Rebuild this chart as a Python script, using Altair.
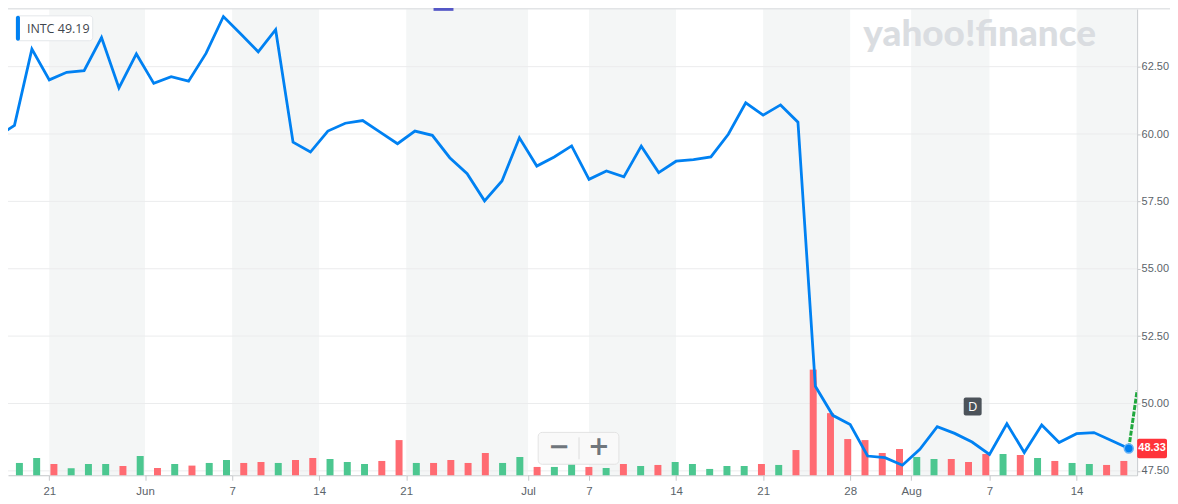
import altair as alt
import pandas as pd

# ---------------- data ----------------
holidays = ["2020-05-25", "2020-07-03"]
dates = [d.strftime("%Y-%m-%d") for d in pd.bdate_range("2020-05-18", "2020-08-19")
         if d.strftime("%Y-%m-%d") not in holidays]

closes = [59.90,
          60.32, 63.15, 62.01, 62.29, 62.35, 63.58, 61.71, 62.97, 61.88, 62.13,
          61.96, 62.99, 64.36, 63.71, 63.05, 63.87, 59.70, 59.33, 60.11, 60.40,
          60.50, 60.07, 59.64, 60.11, 59.95, 59.12, 58.53, 57.52, 58.26, 59.86,
          58.81, 59.15, 59.56, 58.32, 58.63, 58.41, 59.55, 58.57, 58.99, 59.05,
          59.15, 59.99, 61.16, 60.70, 61.08, 60.44, 50.64, 49.56, 49.22, 48.05,
          47.99, 47.71, 48.30, 49.14, 48.89, 48.57, 48.11, 49.25, 48.18, 49.20,
          48.55, 48.88, 48.92, 48.63, 48.33]

# volume in millions of shares (first date has no visible bar)
volumes = [None,
           19.1, 26.8, 17.5, 10.9, 17.5, 17.5, 14.4, 29.9, 11.3, 17.5,
           15.0, 19.1, 23.7, 19.1, 20.6, 19.1, 23.7, 26.8, 25.3, 20.6,
           17.5, 22.2, 54.7, 19.1, 19.1, 23.7, 19.1, 34.6, 19.1, 28.4,
           12.9, 12.9, 17.5, 12.9, 11.3, 17.5, 14.4, 16.0, 20.6, 17.5,
           9.8, 14.4, 14.4, 17.5, 16.0, 39.2, 164.3, 96.6, 56.3, 54.7,
           34.6, 40.8, 28.4, 25.3, 25.3, 20.6, 33.0, 33.0, 31.5, 26.8,
           22.2, 19.1, 17.5, 16.0, 22.2]

tick_pos = [2, 7.5, 12.5, 17.5, 22.5, 29.5, 33, 38, 43, 48, 51.5, 56, 61]
tick_labels = ["21", "Jun", "7", "14", "21", "Jul", "7", "14", "21", "28", "Aug", "7", "14"]

band_start = [2, 12.5, 22.5, 33, 43, 51.5, 61]
band_end = [7.5, 17.5, 29.5, 38, 48, 56, 64.48]

y_ticks = [47.5, 50.0, 52.5, 55.0, 57.5, 60.0, 62.5]

ext_idx = [64, 64.48]
ext_val = [48.33, 50.48]

last_price = 48.33
tooltip_sym = "INTC"
tooltip_val = "49.19"

# ---------------- frames ----------------
idx = list(range(-1, len(dates) - 1))
df = pd.DataFrame({"date": dates, "idx": idx, "close": closes, "vol": volumes})
prev = [None] + closes[:-1]
df["col"] = ["#4cc790" if (p is None or c >= p) else "#ff6b72" for c, p in zip(closes, prev)]
vol_df = df.dropna(subset=["vol"])

bands = pd.DataFrame({"s": band_start, "e": band_end})
grid = pd.DataFrame({"v": y_ticks})
ext = pd.DataFrame({"idx": ext_idx, "close": ext_val})
last = df.tail(1)

W, H = 1133, 468
X_DOM = [-0.372, 64.48]
Y_DOM = [47.337, 64.645]
FONT = "Open Sans"
AXFONT = "Liberation Sans"

xs = alt.Scale(domain=X_DOM, nice=False, zero=False)
ys = alt.Scale(domain=Y_DOM, nice=False, zero=False)

label_expr = "[" + ",".join("'%s'" % t for t in tick_labels) + "][indexof([" + \
    ",".join(str(p) for p in tick_pos) + "], datum.value)]"

x_axis = alt.Axis(values=tick_pos, labelExpr=label_expr, title=None, grid=False,
                  domainColor="#c4c7ca", tickColor="#c4c7ca", tickSize=5,
                  labelColor="#5b636a", labelFontSize=11.5, labelFont=AXFONT,
                  labelPadding=5, labelFlush=False)
y_axis = alt.Axis(values=y_ticks, format=".2f", orient="right", title=None, grid=False,
                  domainColor="#c4c7ca", tickColor="#c4c7ca", tickSize=3,
                  labelColor="#5b636a", labelFontSize=11, labelFont=AXFONT,
                  labelPadding=1)

band_layer = alt.Chart(bands).mark_rect(color="#f4f6f6").encode(
    x=alt.X("s:Q", scale=xs, axis=x_axis), x2="e:Q",
    y=alt.value(0), y2=alt.value(H))

grid_layer = alt.Chart(grid).mark_rule(color="#ebeced", strokeWidth=1).encode(
    y=alt.Y("v:Q", scale=ys, axis=y_axis),
    x=alt.value(0), x2=alt.value(W))

top_border = alt.Chart(pd.DataFrame({"k": [0]})).mark_rule(color="#e2e4e6", strokeWidth=1.5).encode(
    y=alt.value(0), x=alt.value(0), x2=alt.value(W + 40))

vol_layer = alt.Chart(vol_df).mark_bar(width=7).encode(
    x=alt.X("idx:Q", scale=xs, axis=None),
    y=alt.Y("vol:Q", scale=alt.Scale(domain=[0, 725.4], nice=False), axis=None),
    color=alt.Color("col:N", scale=None))

line_layer = alt.Chart(df).mark_line(color="#0081f2", strokeWidth=2.8, clip=True).encode(
    x=alt.X("idx:Q", scale=xs, axis=None),
    y=alt.Y("close:Q", scale=ys, axis=None))

ext_layer = alt.Chart(ext).mark_line(color="#20a83e", strokeWidth=3, strokeDash=[5, 1.5], clip=True).encode(
    x=alt.X("idx:Q", scale=xs, axis=None),
    y=alt.Y("close:Q", scale=ys, axis=None))

dot_layer = alt.Chart(last).mark_circle(size=80, color="#0081f2", opacity=1,
                                        stroke="#66b3f7", strokeWidth=1.5).encode(
    x=alt.X("idx:Q", scale=xs, axis=None),
    y=alt.Y("close:Q", scale=ys, axis=None))

price_box_df = pd.DataFrame({"lo": [last_price - 0.36], "hi": [last_price + 0.36],
                             "p": [last_price], "t": ["%.2f" % last_price]})
price_box = alt.Chart(price_box_df).mark_rect(color="#ff333a", cornerRadius=2).encode(
    y=alt.Y("lo:Q", scale=ys, axis=None), y2="hi:Q",
    x=alt.value(W), x2=alt.value(W + 30))
price_text = alt.Chart(price_box_df).mark_text(color="white", fontSize=11, fontWeight="bold",
                                               font=AXFONT, align="center", baseline="middle").encode(
    y=alt.Y("p:Q", scale=ys, axis=None), x=alt.value(W + 15), text="t:N")

one = pd.DataFrame({"k": [0]})
tip_box = alt.Chart(one).mark_rect(fill="white", stroke="#e4e7ea", strokeWidth=1, cornerRadius=3).encode(
    x=alt.value(8), x2=alt.value(85), y=alt.value(7), y2=alt.value(32))
tip_bar = alt.Chart(one).mark_rect(fill="#0081f2", cornerRadius=2).encode(
    x=alt.value(8), x2=alt.value(12), y=alt.value(7), y2=alt.value(32))
tip_sym = alt.Chart(pd.DataFrame({"t": [tooltip_sym]})).mark_text(
    align="left", baseline="middle", fontSize=12.5, font=FONT, color="#3f464d").encode(
    x=alt.value(19), y=alt.value(20), text="t:N")
tip_val = alt.Chart(pd.DataFrame({"t": [tooltip_val]})).mark_text(
    align="left", baseline="middle", fontSize=12.5, font=FONT, color="#3f464d").encode(
    x=alt.value(50), y=alt.value(20), text="t:N")

watermark = alt.Chart(pd.DataFrame({"t": ["yahoo!finance"]})).mark_text(
    align="center", baseline="middle", fontSize=37, fontWeight=900, font="Lato",
    color="#dadde1").encode(x=alt.value(975), y=alt.value(26), text="t:N")

top_tab = alt.Chart(one).mark_rect(fill="#5457c6").encode(
    x=alt.value(427), x2=alt.value(447), y=alt.value(-1), y2=alt.value(2))

d_box = alt.Chart(one).mark_rect(fill="#4c535a", cornerRadius=2).encode(
    x=alt.value(959), x2=alt.value(977), y=alt.value(390), y2=alt.value(408))
d_text = alt.Chart(pd.DataFrame({"t": ["D"]})).mark_text(
    align="center", baseline="middle", fontSize=13, font=FONT, color="white").encode(
    x=alt.value(968), y=alt.value(399.5), text="t:N")

zoom_box = alt.Chart(one).mark_rect(fill="#f9f9f9", stroke="#e3e3e3", cornerRadius=4).encode(
    x=alt.value(532), x2=alt.value(613), y=alt.value(425), y2=alt.value(457))
zoom_div = alt.Chart(one).mark_rule(color="#dcdcdc").encode(
    x=alt.value(573), y=alt.value(430), y2=alt.value(452))
zoom_txt = alt.Chart(pd.DataFrame({"t": ["−", "+"], "xp": [553, 593]})).mark_text(
    align="center", baseline="middle", fontSize=26, fontWeight="bold", font="DejaVu Sans",
    color="#70767c").encode(x=alt.X("xp:Q", scale=alt.Scale(domain=[0, W], range=[0, W]), axis=None),
                            y=alt.value(440), text="t:N")

chart = alt.layer(
    band_layer, grid_layer, top_border, watermark, vol_layer, line_layer, ext_layer, dot_layer,
    price_box, price_text, tip_box, tip_bar, tip_sym, tip_val, top_tab, d_box, d_text,
    zoom_box, zoom_div, zoom_txt
).resolve_scale(y="independent", x="independent").properties(
    width=W, height=H,
    padding={"left": 0, "top": 0, "right": 33, "bottom": 26},
    autosize=alt.AutoSizeParams(type="none"),
    background="white"
).configure_view(stroke=None)

chart.save("out.html", embed_options={"renderer": "svg", "actions": False})
